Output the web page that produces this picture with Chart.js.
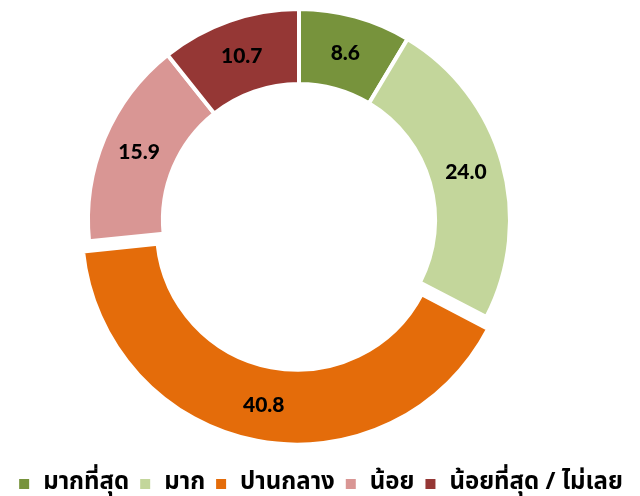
<!DOCTYPE html>
<html lang="th">
<head>
  <meta charset="UTF-8" />
  <title>Doughnut</title>
  <script src="https://cdn.jsdelivr.net/npm/chart.js"></script>
  <style>
    html, body { margin: 0; padding: 0; background: #fff; }
    #wrap { width: 640px; height: 496px; }
  </style>
</head>
<body>
  <div id="wrap"><canvas id="chart"></canvas></div>

  <script>
    const labels = ["มากที่สุด", "มาก", "ปานกลาง", "น้อย", "น้อยที่สุด / ไม่เลย"];
    const values = [8.6, 24.0, 40.8, 15.9, 10.7];
    const colors = ["#77933C", "#C3D69B", "#E46C0A", "#D99694", "#953735"];
    const offsets = [0, 0, 38, 0, 0];

    // keep the ring where it sits in the picture, legend keeps full width
    const areaFix = {
      id: "areaFix",
      afterLayout(chart) {
        const a = chart.chartArea;
        a.left = 0; a.top = 0; a.right = 598; a.bottom = 440;
        a.width = a.right - a.left; a.height = a.bottom - a.top;
        chart.legend.top += 10;
        chart.legend.bottom += 10;
      }
    };

    // value labels in the middle of each slice
    const sliceLabels = {
      id: "sliceLabels",
      afterDatasetsDraw(chart) {
        const ctx = chart.ctx;
        const meta = chart.getDatasetMeta(0);
        ctx.save();
        ctx.font = "900 21px Lato, sans-serif";
        ctx.fillStyle = "#000";
        ctx.textAlign = "center";
        ctx.textBaseline = "middle";
        meta.data.forEach((arc, i) => {
          const mid = (arc.startAngle + arc.endAngle) / 2;
          const r = (arc.innerRadius + arc.outerRadius) / 2 + (arc.options.offset || 0) / 2.6;
          ctx.fillText(values[i].toFixed(1), arc.x + Math.cos(mid) * r, arc.y + Math.sin(mid) * r);
        });
        ctx.restore();
      }
    };

    new Chart(document.getElementById("chart"), {
      type: "doughnut",
      data: {
        labels: labels,
        datasets: [{
          data: values,
          backgroundColor: colors,
          borderColor: "#fff",
          borderWidth: 4,
          borderJoinStyle: "miter",
          offset: offsets
        }]
      },
      options: {
        responsive: true,
        maintainAspectRatio: false,
        animation: false,
        radius: 211,
        cutout: "64.5%",
        layout: { padding: 0 },
        plugins: {
          tooltip: { enabled: false },
          legend: {
            position: "bottom",
            labels: {
              boxWidth: 14,
              boxHeight: 14,
              padding: 9,
              color: "#000",
              font: { size: 24, weight: "bold", family: "'Noto Sans Thai', 'Noto Sans', sans-serif" }
            }
          }
        }
      },
      plugins: [areaFix, sliceLabels]
    });
  </script>
</body>
</html>
